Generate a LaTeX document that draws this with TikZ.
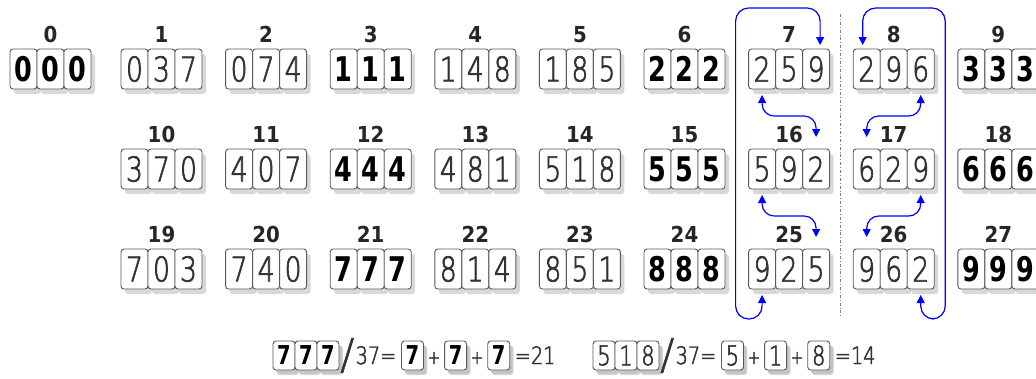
\documentclass[tikz,border=0pt]{standalone}
\usepackage{fontspec}
\usepackage{tikz}
\usetikzlibrary{arrows.meta,positioning,shadows}
\IfFontExistsTF{DejaVu Sans ExtraLight}
  {\newfontfamily\thinfont[FakeStretch=0.78,FakeBold=2]{DejaVu Sans ExtraLight}
   \newfontfamily\formfont[FakeStretch=0.8,FakeBold=2]{DejaVu Sans ExtraLight}
   \newfontfamily\slashfont[FakeBold=1.2]{DejaVu Sans ExtraLight}}
  {\newfontfamily\thinfont[FakeStretch=0.78]{DejaVu Sans}
   \newfontfamily\formfont[FakeStretch=0.8]{DejaVu Sans}
   \newfontfamily\slashfont{DejaVu Sans}}
\newfontfamily\heavyfont[FakeStretch=0.75]{DejaVu Sans}
\newfontfamily\labfont[FakeStretch=0.9]{DejaVu Sans}

\begin{document}
\begin{tikzpicture}[x=1pt,y=-1pt,
  digbox/.style={draw=black!65,fill=white,rounded corners=3pt,line width=0.9pt,
               minimum width=27pt,minimum height=40pt,inner sep=0pt,outer sep=0pt,
               drop shadow={shadow xshift=4pt,shadow yshift=-5pt,fill=black!30},
               font=\thinfont\fontsize{34}{34}\selectfont,text=black!80},
  repbox/.style={digbox,font=\heavyfont\bfseries\fontsize{34}{34}\selectfont,text=black},
  digsmall/.style={digbox,minimum width=22pt,minimum height=29pt,
               drop shadow={shadow xshift=3pt,shadow yshift=-4pt,fill=black!30},
               font=\thinfont\fontsize{27}{27}\selectfont},
  repsmall/.style={digsmall,font=\heavyfont\bfseries\fontsize{26}{26}\selectfont,text=black},
  grouplabel/.style={inner sep=0pt,font=\labfont\bfseries\fontsize{22}{22}\selectfont,text=black!85},
  formula/.style={inner sep=0pt,text height=17pt,text depth=0pt,
               font=\formfont\fontsize{24}{24}\selectfont,text=black!80},
  plus/.style={formula,font=\formfont\fontsize{19}{19}\selectfont},
  slash/.style={inner sep=0pt,font=\slashfont\fontsize{42}{42}\selectfont,text=black!80},
  link/.style={draw=blue,line width=1.2pt,
               {Triangle[length=8pt,width=8pt]}-{Triangle[length=8pt,width=8pt]}},
  divider/.style={draw=black!50,line width=0.8pt,dash dot}
]
\useasboundingbox (0,0) rectangle (1036,378);

% the 28 multiples of 37
\foreach \k in {0,...,27}{
  \pgfmathtruncatemacro\row{\k<10 ? 0 : (\k<19 ? 1 : 2)}
  \pgfmathtruncatemacro\col{\k-9*\row}
  \pgfmathsetmacro\xx{\col==0 ? 10 : 121+(\col-1)*104.6}
  \pgfmathsetmacro\yy{49+100*\row}
  \pgfmathtruncatemacro\num{37*\k}
  \pgfmathtruncatemacro\da{int(\num/100)}
  \pgfmathtruncatemacro\db{mod(int(\num/10),10)}
  \pgfmathtruncatemacro\dc{mod(\num,10)}
  \pgfmathtruncatemacro\rep{mod(\k,3)==0}
  \ifnum\rep=1 \tikzset{cell/.style={repbox}}\else\tikzset{cell/.style={digbox}}\fi
  \node[cell,anchor=north west] (c\k-1) at (\xx,\yy) {\da};
  \node[cell,right=0pt of c\k-1] (c\k-2) {\db};
  \node[cell,right=0pt of c\k-2] (c\k-3) {\dc};
  \node[grouplabel,above=6pt of c\k-2] (lab\k) {\k};
}

% rotations
\draw[divider] (840,14) -- (840,318);
\draw[link,rounded corners=13pt] ([yshift=-6pt]c25-1.south) -- ++(0,24)
  -| ([xshift=-13pt,yshift=41pt]c7-1.north west) -| ([xshift=4pt,yshift=4pt]c7-3.north);
\draw[link,rounded corners=12pt] ([yshift=-6pt]c7-1.south) |- ([yshift=33pt]c16-3.north)
  -- ([yshift=12pt]c16-3.north);
\draw[link,rounded corners=12pt] ([yshift=-6pt]c16-1.south) |- ([yshift=33pt]c25-3.north)
  -- ([yshift=12pt]c25-3.north);
\draw[link,rounded corners=13pt] ([yshift=-6pt]c26-3.south) -- ++(0,24)
  -| ([xshift=11pt,yshift=41pt]c8-3.north east) -| ([xshift=-4pt,yshift=4pt]c8-1.north);
\draw[link,rounded corners=12pt] ([yshift=-6pt]c8-3.south) |- ([yshift=33pt]c17-1.north)
  -- ([yshift=12pt]c17-1.north);
\draw[link,rounded corners=12pt] ([yshift=-6pt]c17-3.south) |- ([yshift=33pt]c26-1.north)
  -- ([yshift=12pt]c26-1.north);

% digit sums
\node[repsmall,anchor=north west] (fa1) at (273,341) {7};
\node[repsmall,right=0pt of fa1] (fa2) {7};
\node[repsmall,right=0pt of fa2] (fa3) {7};
\node[slash,right=1pt of fa3] (fa4) {/};
\node[formula,right=1pt of fa4] (fa5) {37=};
\node[repsmall,right=5pt of fa5] (fa6) {7};
\node[plus,right=4pt of fa6] (fa7) {+};
\node[repsmall,right=4pt of fa7] (fa8) {7};
\node[plus,right=4pt of fa8] (fa9) {+};
\node[repsmall,right=4pt of fa9] (fa10) {7};
\node[formula,right=5pt of fa10] (fa11) {=21};

\node[digsmall,anchor=north west] (fb1) at (593,341) {5};
\node[digsmall,right=0pt of fb1] (fb2) {1};
\node[digsmall,right=0pt of fb2] (fb3) {8};
\node[slash,right=1pt of fb3] (fb4) {/};
\node[formula,right=1pt of fb4] (fb5) {37=};
\node[digsmall,right=5pt of fb5] (fb6) {5};
\node[plus,right=4pt of fb6] (fb7) {+};
\node[digsmall,right=4pt of fb7] (fb8) {1};
\node[plus,right=4pt of fb8] (fb9) {+};
\node[digsmall,right=4pt of fb9] (fb10) {8};
\node[formula,right=5pt of fb10] (fb11) {=14};
\end{tikzpicture}
\end{document}
